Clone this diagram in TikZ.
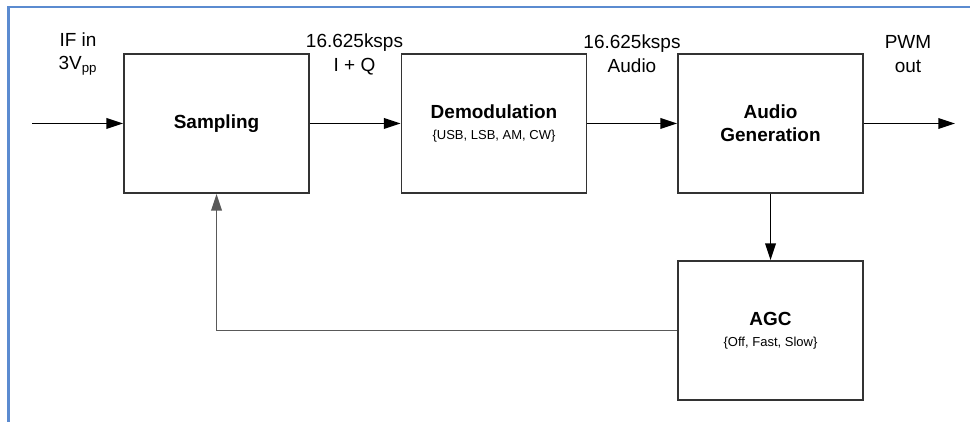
\documentclass[tikz,border=0pt]{standalone}
\usepackage{fontspec}
\setmainfont{Liberation Sans}
\usetikzlibrary{arrows.meta}
\definecolor{frameblue}{HTML}{5B8BD0}
\tikzstyle{block} = [draw=black!80, line width=1pt, minimum width=3.7cm, minimum height=2.78cm, align=center, font=\fontsize{10.8}{13}\selectfont\bfseries]
\tikzstyle{arrow} = [draw, line width=1pt, -{Triangle[length=9.5pt,width=6pt]}]
\tikzstyle{lbl} = [align=center, font=\fontsize{10.8}{13.6}\selectfont]
\newcommand{\modes}[1]{{\fontsize{7.4}{9}\mdseries\selectfont #1}}

\begin{document}
\begin{tikzpicture}
\useasboundingbox (0,0) rectangle (19.4,8.44);
\draw [frameblue, line width=1.4pt] (0.17,0) -- (0.17,8.3) -- (19.4,8.3);

% blocks
\node [block] (samp)  at ( 4.33,5.97) {Sampling};
\node [block] (demod) at ( 9.88,5.97) {Demodulation\\[-1.2pt]\modes{\{USB, LSB, AM, CW\}}};
\node [block] (aud)   at (15.41,5.97) {Audio\\Generation};
\node [block] (agc)   at (15.41,1.83) {AGC\\[-1.2pt]\modes{\{Off, Fast, Slow\}}};

% signal labels
\node [lbl] (ifin)  at ( 1.56,7.36) {IF in\\3V\textsubscript{pp}};
\node [lbl] (rate1) at ( 7.09,7.36) {16.625ksps\\I + Q};
\node [lbl] (rate2) at (12.64,7.36) {16.625ksps\\Audio};
\node [lbl] (pwm)   at (18.16,7.36) {PWM\\out};

\coordinate (in)  at ( 0.64,5.97);
\coordinate (out) at (19.10,5.97);

\draw [arrow] (in) -- (samp);
\draw [arrow] (samp) -- (demod);
\draw [arrow] (demod) -- (aud);
\draw [arrow] (aud) -- (out);
\draw [arrow] (aud) -- (agc);
\draw [arrow, draw=black!65] (agc.west) -| (samp.south);
\end{tikzpicture}
\end{document}
